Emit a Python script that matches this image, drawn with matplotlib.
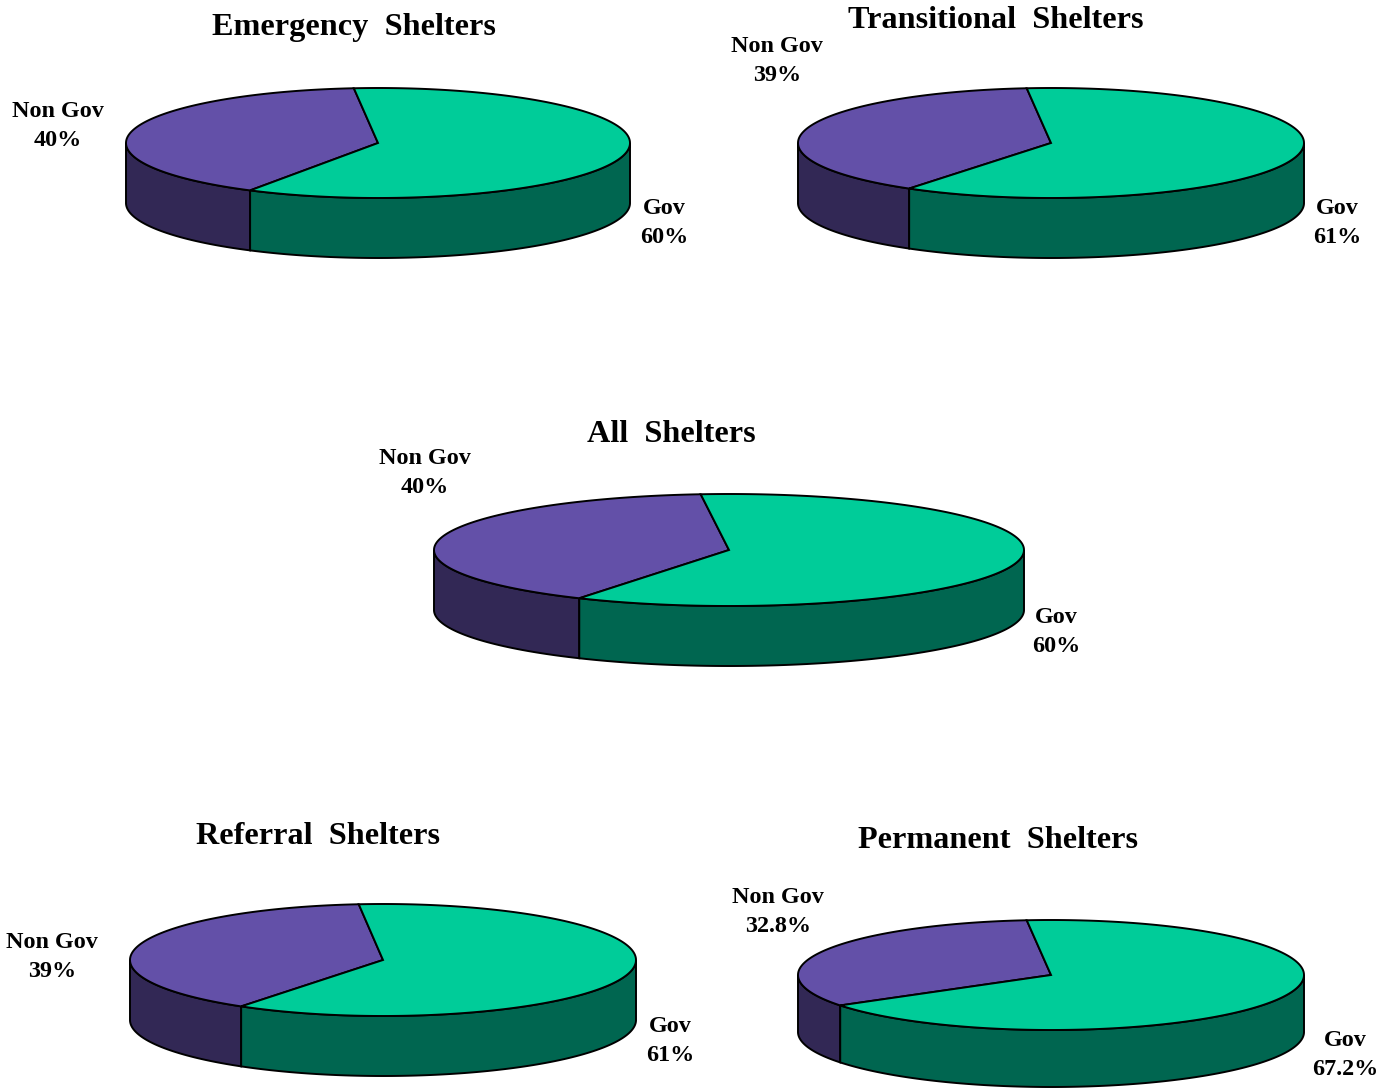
import numpy as np
import matplotlib.pyplot as plt
from matplotlib.patches import Polygon

# ............................................
# DATA
# ............................................
titles = ["Emergency  Shelters", "Transitional  Shelters", "All  Shelters",
          "Referral  Shelters", "Permanent  Shelters"]
categories = ["Non Gov", "Gov"]
nongov_pct = [40, 39, 40, 39, 32.8]
gov_pct = [60, 61, 60, 61, 67.2]
nongov_txt = ["40%", "39%", "40%", "39%", "32.8%"]
gov_txt = ["60%", "61%", "60%", "61%", "67.2%"]

# ............................................
# LAYOUT (pixel coords, y downwards)
# ............................................
# cx, cy, half width, half height, depth
pies = [
    (378, 143, 252, 55, 60),
    (1051, 143, 253, 55, 60),
    (729, 550, 295, 56, 60),
    (383, 960, 253, 56, 60),
    (1051, 975, 253, 55, 57),
]
title_pos = [(354, 27), (996, 21), (671, 434), (318, 836), (998, 840)]
nongov_pos = [(58, 126), (777, 61), (425, 473), (52, 957), (778, 912)]
gov_pos = [(664, 223), (1337, 223), (1056, 632), (670, 1041), (1345, 1055)]

TOP = {"Gov": "#00cc99", "Non Gov": "#6350a8"}
SIDE = {"Gov": "#006650", "Non Gov": "#322855"}
START = 95.5  # degrees, counter clockwise


def ellipse_pts(cx, cy, a, b, t0, t1, n=200):
    t = np.radians(np.linspace(t0, t1, n))
    return cx + a * np.cos(t), cy - b * np.sin(t)


def draw_pie(ax, cx, cy, a, b, d, shares):
    # slice angle ranges
    spans = []
    t = START
    for name, s in zip(categories, shares):
        spans.append((name, t, t + s / 100.0 * 360))
        t += s / 100.0 * 360

    # side walls (front half only: 180..360)
    for name, t0, t1 in spans:
        for off in (0, 360, -360):
            lo = max(t0 + off, 180)
            hi = min(t1 + off, 360)
            if hi <= lo:
                continue
            x, y = ellipse_pts(cx, cy, a, b, lo, hi)
            xs = np.concatenate([x, x[::-1]])
            ys = np.concatenate([y, y[::-1] + d])
            ax.add_patch(Polygon(np.column_stack([xs, ys]), closed=True,
                                 facecolor=SIDE[name], edgecolor="black",
                                 linewidth=1.4, zorder=2))

    # top wedges
    for name, t0, t1 in spans:
        x, y = ellipse_pts(cx, cy, a, b, t0, t1)
        xs = np.concatenate([[cx], x])
        ys = np.concatenate([[cy], y])
        ax.add_patch(Polygon(np.column_stack([xs, ys]), closed=True,
                             facecolor=TOP[name], edgecolor="black",
                             linewidth=1.4, zorder=3))


# ............................................
# FIGURE
# ............................................
fig = plt.figure(figsize=(13.93, 10.88), dpi=100)
ax = fig.add_axes([0, 0, 1, 1])
ax.set_xlim(0, 1393)
ax.set_ylim(1088, 0)
ax.axis("off")

font = dict(family="Liberation Serif", fontweight="bold", color="black")

for i in range(len(titles)):
    cx, cy, a, b, d = pies[i]
    draw_pie(ax, cx, cy, a, b, d, [nongov_pct[i], gov_pct[i]])

    ax.text(*title_pos[i], titles[i], ha="center", va="center",
            fontsize=23.2, **font)
    ax.text(*nongov_pos[i], categories[0] + "\n" + nongov_txt[i],
            ha="center", va="center", fontsize=17.4, linespacing=1.45, **font)
    ax.text(*gov_pos[i], categories[1] + "\n" + gov_txt[i],
            ha="center", va="center", fontsize=17.4, linespacing=1.45, **font)

fig.savefig("out.png", dpi=100)
plt.close(fig)
